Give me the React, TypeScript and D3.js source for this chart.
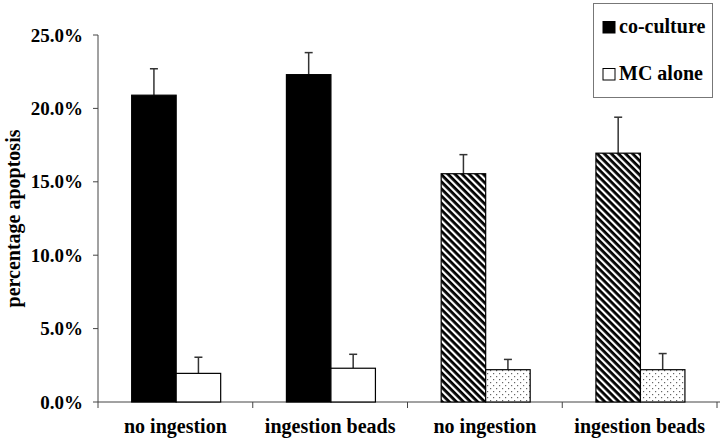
import React, { useEffect, useRef } from 'react';
import * as d3 from 'd3';

const categories = ['no ingestion', 'ingestion beads', 'no ingestion', 'ingestion beads'];
const coCulture = [20.9, 22.3, 15.55, 16.95];
const coCultureErr = [1.8, 1.5, 1.3, 2.45];
const mcAlone = [1.95, 2.3, 2.2, 2.2];
const mcAloneErr = [1.1, 0.95, 0.7, 1.1];
const yTicks = [0, 5, 10, 15, 20, 25];
const legendLabels = ['co-culture', 'MC alone'];

// groups 3 and 4 are drawn with hatch / dots instead of solid
const patterned = [false, false, true, true];

const font = '"Liberation Serif", "Times New Roman", serif';

export default function App() {
  const ref = useRef<SVGSVGElement | null>(null);

  useEffect(() => {
    const svg = d3.select(ref.current);
    svg.selectAll('*').remove();

    const width = 720;
    const height = 442;
    const margin = { top: 35, right: 3, bottom: 40, left: 98 };

    const x = d3
      .scaleBand()
      .domain(d3.range(categories.length).map(String))
      .range([margin.left, width - margin.right]);
    const y = d3
      .scaleLinear()
      .domain([0, 25])
      .range([height - margin.bottom, margin.top]);
    const barW = 44.5;

    const defs = svg.append('defs');
    const hatch = defs
      .append('pattern')
      .attr('id', 'hatch')
      .attr('patternUnits', 'userSpaceOnUse')
      .attr('width', 5)
      .attr('height', 5)
      .attr('patternTransform', 'rotate(45)');
    hatch.append('rect').attr('width', 5).attr('height', 5).attr('fill', '#fff');
    hatch.append('rect').attr('width', 5).attr('height', 2.8).attr('fill', '#000');

    const dots = defs
      .append('pattern')
      .attr('id', 'dots')
      .attr('patternUnits', 'userSpaceOnUse')
      .attr('width', 6)
      .attr('height', 6);
    dots.append('rect').attr('width', 6).attr('height', 6).attr('fill', '#fff');
    dots.append('rect').attr('x', 1).attr('y', 1).attr('width', 1.2).attr('height', 1.2).attr('fill', '#666');
    dots.append('rect').attr('x', 4).attr('y', 4).attr('width', 1.2).attr('height', 1.2).attr('fill', '#666');

    const axisColor = '#444';

    // y axis
    const yAxis = svg.append('g').attr('transform', `translate(${margin.left},0)`);
    yAxis
      .append('line')
      .attr('x1', 0)
      .attr('x2', 0)
      .attr('y1', y(25))
      .attr('y2', y(0))
      .attr('stroke', axisColor);
    yAxis
      .selectAll('line.tick')
      .data(yTicks)
      .join('line')
      .attr('class', 'tick')
      .attr('x1', -5)
      .attr('x2', 0)
      .attr('y1', (d) => y(d))
      .attr('y2', (d) => y(d))
      .attr('stroke', axisColor);
    yAxis
      .selectAll('text')
      .data(yTicks)
      .join('text')
      .attr('x', -15)
      .attr('y', (d) => y(d))
      .attr('dy', '0.35em')
      .attr('text-anchor', 'end')
      .style('font-family', font)
      .style('font-weight', 'bold')
      .style('font-size', '19px')
      .text((d) => `${d.toFixed(1)}%`);

    svg
      .append('text')
      .attr('transform', `translate(20,${(y(0) + y(25)) / 2}) rotate(-90)`)
      .attr('text-anchor', 'middle')
      .style('font-family', font)
      .style('font-weight', 'bold')
      .style('font-size', '20px')
      .text('percentage apoptosis');

    // x axis
    const xAxis = svg.append('g').attr('transform', `translate(0,${y(0)})`);
    xAxis
      .append('line')
      .attr('x1', margin.left)
      .attr('x2', width)
      .attr('stroke', axisColor);
    xAxis
      .selectAll('line.tick')
      .data(d3.range(categories.length + 1))
      .join('line')
      .attr('class', 'tick')
      .attr('x1', (i) => margin.left + i * x.bandwidth())
      .attr('x2', (i) => margin.left + i * x.bandwidth())
      .attr('y1', 0)
      .attr('y2', 6)
      .attr('stroke', axisColor);
    xAxis
      .selectAll('text')
      .data(categories)
      .join('text')
      .attr('x', (d, i) => x(String(i))! + x.bandwidth() / 2)
      .attr('y', 31)
      .attr('text-anchor', 'middle')
      .style('font-family', font)
      .style('font-weight', 'bold')
      .style('font-size', '20px')
      .text((d) => d);

    const cx = (i: number) => x(String(i))! + x.bandwidth() / 2 + 0.8;

    const series = [
      { vals: coCulture, err: coCultureErr, off: -barW, fill: (i: number) => (patterned[i] ? 'url(#hatch)' : '#000') },
      { vals: mcAlone, err: mcAloneErr, off: 0, fill: (i: number) => (patterned[i] ? 'url(#dots)' : '#fff') },
    ];

    series.forEach((s) => {
      const g = svg.append('g');
      // error bars (upper only)
      g.selectAll('line.err')
        .data(s.vals)
        .join('line')
        .attr('class', 'err')
        .attr('x1', (d, i) => cx(i) + s.off + barW / 2)
        .attr('x2', (d, i) => cx(i) + s.off + barW / 2)
        .attr('y1', (d) => y(d))
        .attr('y2', (d, i) => y(d + s.err[i]))
        .attr('stroke', '#333')
        .attr('stroke-width', 1.5);
      g.selectAll('line.cap')
        .data(s.vals)
        .join('line')
        .attr('class', 'cap')
        .attr('x1', (d, i) => cx(i) + s.off + barW / 2 - 4)
        .attr('x2', (d, i) => cx(i) + s.off + barW / 2 + 4)
        .attr('y1', (d, i) => y(d + s.err[i]))
        .attr('y2', (d, i) => y(d + s.err[i]))
        .attr('stroke', '#333')
        .attr('stroke-width', 1.5);
      g.selectAll('rect')
        .data(s.vals)
        .join('rect')
        .attr('x', (d, i) => cx(i) + s.off)
        .attr('y', (d) => y(d))
        .attr('width', barW)
        .attr('height', (d) => y(0) - y(d))
        .attr('fill', (d, i) => s.fill(i))
        .attr('stroke', '#000')
        .attr('stroke-width', 1.2);
    });

    // legend
    const lg = svg.append('g');
    lg.append('rect')
      .attr('x', 593.5)
      .attr('y', 3.5)
      .attr('width', 119)
      .attr('height', 94)
      .attr('fill', '#fff')
      .attr('stroke', '#777');
    legendLabels.forEach((label, i) => {
      const ly = 33 + i * 47;
      lg.append('rect')
        .attr('x', 603)
        .attr('y', ly - 11.5)
        .attr('width', 12)
        .attr('height', 11.5)
        .attr('fill', i === 0 ? '#000' : '#fff')
        .attr('stroke', '#000');
      lg.append('text')
        .attr('x', 619)
        .attr('y', ly)
        .style('font-family', font)
        .style('font-weight', 'bold')
        .style('font-size', '20px')
        .text(label);
    });
  }, []);

  return (
    <svg
      ref={ref}
      width={720}
      height={442}
      style={{ position: 'absolute', left: 0, top: 0, background: '#fff' }}
    />
  );
}
